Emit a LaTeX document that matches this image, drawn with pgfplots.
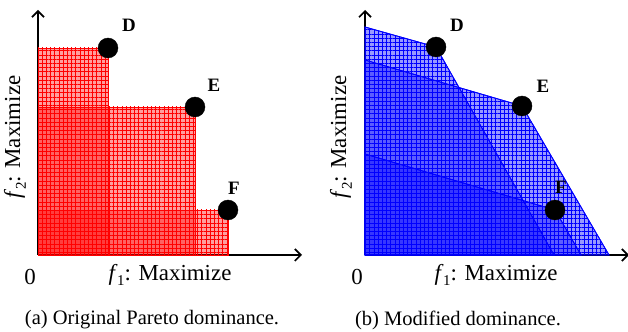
\documentclass[border=0pt]{standalone}
\usepackage{fontspec}
\setmainfont{Liberation Serif}
\usepackage{pgfplots}
\pgfplotsset{compat=1.18}
\usetikzlibrary{patterns.meta, arrows.meta}

\tikzset{lab/.style={font=\bfseries\fontsize{19}{19}\selectfont}}
\newcommand{\fsub}[1]{\textit{f}\kern-0.5bp\raisebox{-0.25em}{\fontsize{15}{15}\selectfont #1}}
\pgfplotsset{
  panel/.style={
    x=1bp, y=1bp, xmin=0, xmax=264, ymin=0, ymax=245,
    axis lines=left, xtick=\empty, ytick=\empty, clip=false,
    anchor=origin,
    axis line style={line width=1.7bp, -{Straight Barb[length=6bp,width=12bp,line width=1.7bp]}},
  },
  redreg/.style={draw=red, line width=0.8bp, fill=red, fill opacity=0.38,
    postaction={pattern={Hatch[angle=0,distance=4.2bp,line width=0.5bp]}, pattern color=red, fill opacity=0.75}},
  bluereg/.style={draw=blue, line width=0.8bp, fill=blue, fill opacity=0.40,
    postaction={pattern={Hatch[angle=0,distance=4.2bp,line width=0.5bp]}, pattern color=blue, fill opacity=0.75}},
  dots/.style={only marks, mark=*, mark size=10bp, black, mark options={fill=black}},
}

\begin{document}
\begin{tikzpicture}
\useasboundingbox (0,0) rectangle (628bp,332bp);

% ---------- Panel (a) ----------
\begin{axis}[panel, at={(38bp,77bp)}]
  \addplot[redreg] coordinates {(0,0) (0,45) (190,45) (190,0)} -- cycle;
  \addplot[redreg] coordinates {(0,0) (0,148) (157,148) (157,0)} -- cycle;
  \addplot[redreg] coordinates {(0,0) (0,207) (70,207) (70,0)} -- cycle;
  \addplot[dots] coordinates {(70,207) (157,148) (190,45)};
  \node[lab] at (axis cs:91,230) {D};
  \node[lab] at (axis cs:176,170) {E};
  \node[lab] at (axis cs:196,67) {F};
\end{axis}

% ---------- Panel (b) ----------
\begin{axis}[panel, at={(365bp,77bp)}]
  \addplot[bluereg] coordinates {(0,0) (0,101) (190,45) (216,0)} -- cycle;
  \addplot[bluereg] coordinates {(0,0) (0,195) (157,149) (244,0)} -- cycle;
  \addplot[bluereg] coordinates {(0,0) (0,228) (71,208) (189,0)} -- cycle;
  \addplot[dots] coordinates {(71,208) (157,149) (190,45)};
  \node[lab] at (axis cs:92,230) {D};
  \node[lab] at (axis cs:178,169) {E};
  \node[lab] at (axis cs:196,68) {F};
\end{axis}

% ---------- Text ----------
\begin{scope}[every node/.style={font=\fontsize{23}{23}\selectfont}]
  \node at (30bp,55bp) {0};
  \node at (170bp,57bp) {\fsub{1}: Maximize};
  \node[rotate=90] at (15bp,195bp) {\fsub{2}: Maximize};
  \node at (357bp,55bp) {0};
  \node at (496bp,57bp) {\fsub{1}: Maximize};
  \node[rotate=90] at (341bp,195bp) {\fsub{2}: Maximize};
\end{scope}
\begin{scope}[every node/.style={font=\fontsize{20.6}{20.6}\selectfont}]
  \node at (152bp,12bp) {(a) Original Pareto dominance.};
  \node at (458bp,12bp) {(b) Modified dominance.};
\end{scope}
\end{tikzpicture}
\end{document}
